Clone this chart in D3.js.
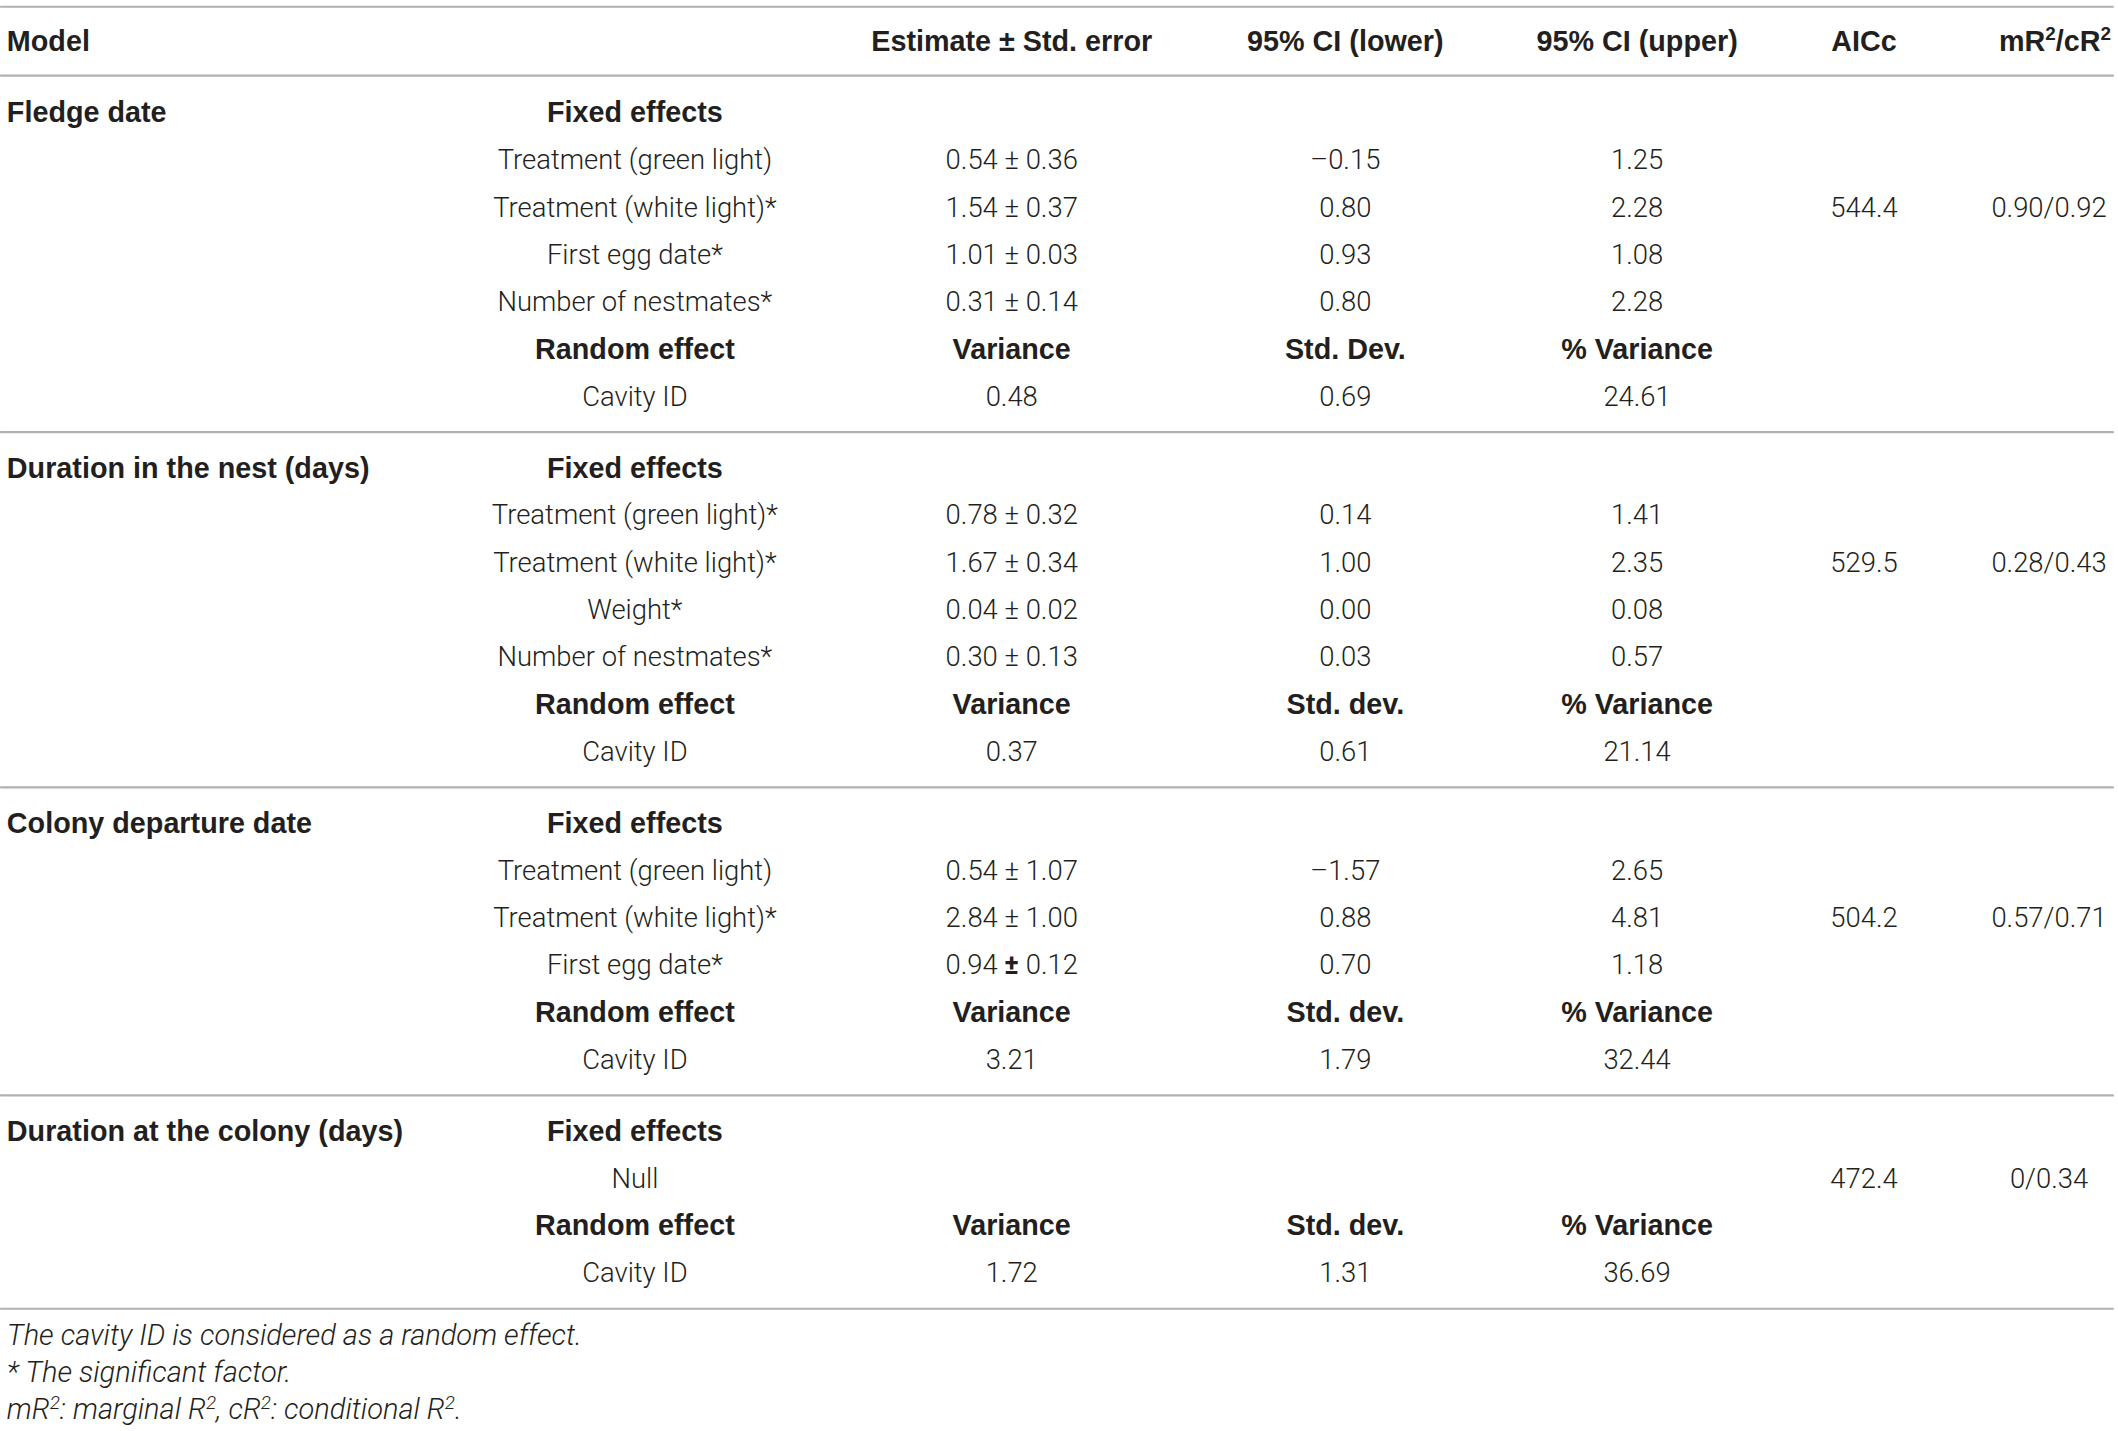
<!DOCTYPE html>
<html>
<head>
<meta charset="utf-8">
<script src="https://cdn.jsdelivr.net/npm/d3@7"></script>
<style>
  html, body { margin: 0; padding: 0; background: #ffffff; }
  svg { display: block; }
  text { font-family: Roboto, "Liberation Sans", Arial, sans-serif; fill: #231f20; }
  text.b { font-family: "Liberation Sans", Arial, sans-serif; }
</style>
</head>
<body>
<div id="chart"></div>
<script>
// ---------------- data ----------------
const headerLabels = ["Model", "", "Estimate ± Std. error", "95% CI (lower)", "95% CI (upper)", "AICc", "mR2/cR2"];
const models = ["Fledge date", "Duration in the nest (days)", "Colony departure date", "Duration at the colony (days)"];

const fledgeRows = [
  ["Fixed effects", "", "", ""],
  ["Treatment (green light)", "0.54 ± 0.36", "–0.15", "1.25"],
  ["Treatment (white light)*", "1.54 ± 0.37", "0.80", "2.28"],
  ["First egg date*", "1.01 ± 0.03", "0.93", "1.08"],
  ["Number of nestmates*", "0.31 ± 0.14", "0.80", "2.28"],
  ["Random effect", "Variance", "Std. Dev.", "% Variance"],
  ["Cavity ID", "0.48", "0.69", "24.61"]
];
const nestRows = [
  ["Fixed effects", "", "", ""],
  ["Treatment (green light)*", "0.78 ± 0.32", "0.14", "1.41"],
  ["Treatment (white light)*", "1.67 ± 0.34", "1.00", "2.35"],
  ["Weight*", "0.04 ± 0.02", "0.00", "0.08"],
  ["Number of nestmates*", "0.30 ± 0.13", "0.03", "0.57"],
  ["Random effect", "Variance", "Std. dev.", "% Variance"],
  ["Cavity ID", "0.37", "0.61", "21.14"]
];
const departureRows = [
  ["Fixed effects", "", "", ""],
  ["Treatment (green light)", "0.54 ± 1.07", "–1.57", "2.65"],
  ["Treatment (white light)*", "2.84 ± 1.00", "0.88", "4.81"],
  ["First egg date*", "0.94 ± 0.12", "0.70", "1.18"],
  ["Random effect", "Variance", "Std. dev.", "% Variance"],
  ["Cavity ID", "3.21", "1.79", "32.44"]
];
const colonyRows = [
  ["Fixed effects", "", "", ""],
  ["Null", "", "", ""],
  ["Random effect", "Variance", "Std. dev.", "% Variance"],
  ["Cavity ID", "1.72", "1.31", "36.69"]
];
const aiccValues = ["544.4", "529.5", "504.2", "472.4"];
const r2Values = ["0.90/0.92", "0.28/0.43", "0.57/0.71", "0/0.34"];
const fitRowIndex = [2, 2, 2, 1];
const boldLabels = ["Fixed effects", "Random effect"];
const footnotes = [
  [["The cavity ID is considered as a random effect.", false]],
  [["* The significant factor.", false]],
  [["mR", false], ["2", true], [": marginal R", false], ["2", true], [", cR", false], ["2", true], [": conditional R", false], ["2", true], [".", false]]
];

// ---------------- layout ----------------
const W = 1568, H = 1059.5;
const svg = d3.select("#chart").append("svg")
  .attr("width", 2118).attr("height", 1431)
  .attr("viewBox", `0 0 ${W} ${H}`);

const colKeys = ["model", "effect", "est", "lower", "upper", "aicc", "r2"];
const colX = d3.scaleOrdinal().domain(colKeys).range([5, 470, 749, 996, 1212, 1380, 1517]);
const colAnchor = d3.scaleOrdinal().domain(colKeys).range(["start", "middle", "middle", "middle", "middle", "middle", "middle"]);

// row units -> y
const y = d3.scaleLinear().domain([0, 1]).range([83, 118]);
const blockGap = 18 / 35;
const blocks = [fledgeRows, nestRows, departureRows, colonyRows];

const FS = 20.3;
const FSB = 21.3;
const lineColor = "#b1b1b1";
const lineW = 1.6;

function hline(yy) {
  svg.append("line").attr("x1", 0).attr("x2", 1565).attr("y1", yy).attr("y2", yy)
    .attr("stroke", lineColor).attr("stroke-width", lineW);
}

function addText(x, yy, str, anchor, bold) {
  const t = svg.append("text").attr("x", x).attr("y", yy).attr("dy", "0.36em")
    .attr("text-anchor", anchor)
    .attr("class", bold ? "b" : null)
    .attr("font-size", bold ? FSB : FS)
    .attr("font-weight", bold ? 700 : 300);
  return t;
}

// top and header lines
hline(5);
hline(56);

// header
headerLabels.forEach((h, i) => {
  if (!h) return;
  const key = colKeys[i];
  const t = addText(colX(key), 30, "", colAnchor(key), true);
  if (key === "r2") {
    t.attr("text-anchor", "end").attr("x", 1563);
    t.append("tspan").text("mR");
    t.append("tspan").attr("dy", -8).attr("font-size", 14).text("2");
    t.append("tspan").attr("dy", 8).text("/cR");
    t.append("tspan").attr("dy", -8).attr("font-size", 14).text("2");
  } else {
    t.text(h);
  }
});

// body
let rowCount = 0;
blocks.forEach((rows, b) => {
  const u0 = rowCount + b * blockGap;
  // model name
  addText(colX("model"), y(u0), models[b], "start", true).text(models[b]);
  rows.forEach((r, ri) => {
    const yy = y(u0 + ri);
    const isHead = boldLabels.includes(r[0]);
    addText(colX("effect"), yy, "", "middle", isHead).text(r[0]);
    ["est", "lower", "upper"].forEach((k, ci) => {
      const v = r[ci + 1];
      if (!v) return;
      const t = addText(colX(k), yy, "", "middle", isHead);
      if (!isHead && v === "0.94 ± 0.12") {
        const parts = v.split("±");
        t.append("tspan").text(parts[0]);
        t.append("tspan").attr("font-weight", 700).text("±");
        t.append("tspan").text(parts[1]);
      } else {
        t.text(v);
      }
    });
  });
  const yf = y(u0 + fitRowIndex[b]);
  addText(colX("aicc"), yf, "", "middle", false).text(aiccValues[b]);
  addText(colX("r2"), yf, "", "middle", false).text(r2Values[b]);
  rowCount += rows.length;
  hline(y(u0 + rows.length - 1) + 27);
});

// footnotes
const footY = [988, 1015.5, 1043];
footnotes.forEach((parts, i) => {
  const t = svg.append("text").attr("x", 5).attr("y", footY[i]).attr("dy", "0.36em")
    .attr("font-size", 21.5).attr("font-style", "italic").attr("font-weight", 300);
  let raised = false;
  parts.forEach(([s, sup]) => {
    const ts = t.append("tspan").text(s);
    if (sup && !raised) { ts.attr("dy", -7.5).attr("font-size", 14); raised = true; }
    else if (sup) { ts.attr("font-size", 14); }
    else if (raised) { ts.attr("dy", 7.5); raised = false; }
  });
});
</script>
</body>
</html>
